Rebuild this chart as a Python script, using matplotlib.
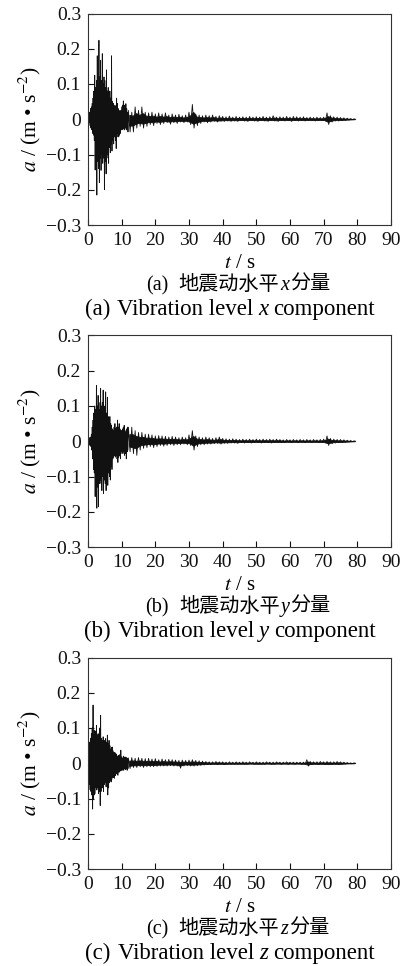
import matplotlib
matplotlib.use("Agg")
import matplotlib.pyplot as plt

plt.rcParams["font.family"] = ["Liberation Serif", "Noto Sans CJK SC"]
plt.rcParams["mathtext.fontset"] = "stix"

# Envelope of each record.
# Early part: 0-12 s in 0.25 s bins; late part: 12-80 s in 1 s bins.
# Each bin holds an upper peak followed by a lower peak (m/s^2).
EARLY_DT = 0.25
LATE_START = 12.0
LATE_DT = 1.0

x_early_hi = [0.005, 0.012, 0.020, 0.030, 0.035, 0.045, 0.060, 0.080,
              0.125, 0.090, 0.110, 0.180, 0.100, 0.224, 0.120, 0.167,
              0.110, 0.186, 0.100, 0.120, 0.110, 0.090, 0.140, 0.080,
              0.090, 0.070, 0.080, 0.060, 0.180, 0.050, 0.045, 0.030,
              0.040, 0.035, 0.060, 0.045, 0.030, 0.025, 0.020, 0.025,
              0.035, 0.040, 0.052, 0.040, 0.030, 0.044, 0.030, 0.020]
x_early_lo = [-0.008, -0.010, -0.018, -0.025, -0.030, -0.040, -0.045, -0.060,
              -0.144, -0.100, -0.215, -0.120, -0.140, -0.180, -0.110, -0.145,
              -0.100, -0.125, -0.110, -0.200, -0.120, -0.155, -0.110, -0.100,
              -0.125, -0.080, -0.095, -0.070, -0.090, -0.060, -0.070, -0.050,
              -0.060, -0.083, -0.050, -0.040, -0.050, -0.045, -0.040, -0.030,
              -0.030, -0.025, -0.028, -0.030, -0.025, -0.030, -0.025, -0.036]
x_late_hi = [0.025, 0.020, 0.035, 0.025, 0.035, 0.020, 0.018, 0.020,
             0.015, 0.018, 0.015, 0.018, 0.012, 0.015, 0.012, 0.014,
             0.010, 0.012, 0.020, 0.042, 0.015, 0.012, 0.010, 0.012,
             0.010, 0.012, 0.008, 0.010, 0.008, 0.007, 0.009, 0.006,
             0.008, 0.006, 0.007, 0.006, 0.008, 0.006, 0.007, 0.006,
             0.008, 0.006, 0.007, 0.010, 0.006, 0.007, 0.006, 0.008,
             0.006, 0.008, 0.007, 0.006, 0.007, 0.005, 0.006, 0.005,
             0.006, 0.005, 0.006, 0.018, 0.010, 0.007, 0.006, 0.005,
             0.004, 0.003, 0.002, 0.001]
x_late_lo = [-0.036, -0.036, -0.025, -0.020, -0.025, -0.020, -0.015, -0.018,
             -0.012, -0.015, -0.012, -0.010, -0.014, -0.010, -0.012, -0.008,
             -0.010, -0.008, -0.015, -0.025, -0.018, -0.012, -0.008, -0.010,
             -0.008, -0.006, -0.008, -0.006, -0.006, -0.005, -0.006, -0.005,
             -0.006, -0.004, -0.005, -0.006, -0.004, -0.005, -0.006, -0.004,
             -0.005, -0.006, -0.004, -0.005, -0.006, -0.004, -0.005, -0.004,
             -0.006, -0.004, -0.005, -0.004, -0.005, -0.004, -0.004, -0.005,
             -0.004, -0.004, -0.005, -0.015, -0.008, -0.005, -0.005, -0.004,
             -0.003, -0.002, -0.001, 0.000]

y_early_hi = [0.004, 0.008, 0.010, 0.012, 0.020, 0.040, 0.060, 0.080,
              0.100, 0.090, 0.158, 0.100, 0.130, 0.110, 0.090, 0.150,
              0.100, 0.110, 0.145, 0.090, 0.100, 0.140, 0.080, 0.125,
              0.070, 0.060, 0.070, 0.050, 0.045, 0.035, 0.030, 0.040,
              0.050, 0.035, 0.040, 0.060, 0.040, 0.050, 0.035, 0.030,
              0.030, 0.035, 0.040, 0.045, 0.030, 0.025, 0.035, 0.040]
y_early_lo = [-0.006, -0.010, -0.012, -0.015, -0.025, -0.050, -0.080, -0.090,
              -0.157, -0.110, -0.190, -0.130, -0.186, -0.120, -0.110, -0.120,
              -0.140, -0.100, -0.148, -0.110, -0.120, -0.140, -0.100, -0.125,
              -0.090, -0.100, -0.110, -0.070, -0.080, -0.050, -0.045, -0.040,
              -0.045, -0.040, -0.050, -0.060, -0.045, -0.040, -0.050, -0.035,
              -0.030, -0.035, -0.030, -0.040, -0.035, -0.050, -0.030, -0.025]
y_late_hi = [0.040, 0.040, 0.030, 0.025, 0.025, 0.020, 0.020, 0.018,
             0.015, 0.016, 0.015, 0.014, 0.012, 0.014, 0.012, 0.010,
             0.012, 0.010, 0.018, 0.030, 0.015, 0.012, 0.010, 0.012,
             0.010, 0.008, 0.010, 0.012, 0.008, 0.007, 0.006, 0.007,
             0.006, 0.005, 0.006, 0.005, 0.006, 0.005, 0.006, 0.005,
             0.006, 0.005, 0.006, 0.005, 0.006, 0.005, 0.004, 0.005,
             0.004, 0.005, 0.004, 0.005, 0.004, 0.005, 0.004, 0.005,
             0.004, 0.005, 0.006, 0.015, 0.008, 0.006, 0.005, 0.005,
             0.004, 0.003, 0.002, 0.001]
y_late_lo = [-0.030, -0.035, -0.040, -0.025, -0.020, -0.018, -0.015, -0.018,
             -0.015, -0.012, -0.014, -0.012, -0.010, -0.012, -0.010, -0.010,
             -0.008, -0.010, -0.012, -0.025, -0.015, -0.010, -0.010, -0.008,
             -0.008, -0.007, -0.006, -0.008, -0.006, -0.006, -0.005, -0.005,
             -0.006, -0.004, -0.005, -0.004, -0.005, -0.004, -0.004, -0.005,
             -0.004, -0.004, -0.005, -0.004, -0.004, -0.004, -0.004, -0.003,
             -0.004, -0.003, -0.004, -0.003, -0.004, -0.003, -0.004, -0.003,
             -0.004, -0.004, -0.005, -0.012, -0.007, -0.005, -0.004, -0.004,
             -0.003, -0.002, -0.001, 0.000]

z_early_hi = [0.040, 0.050, 0.060, 0.070, 0.084, 0.100, 0.165, 0.080,
              0.093, 0.090, 0.107, 0.080, 0.084, 0.070, 0.100, 0.136,
              0.070, 0.065, 0.075, 0.060, 0.065, 0.070, 0.060, 0.080,
              0.055, 0.065, 0.050, 0.040, 0.045, 0.046, 0.035, 0.030,
              0.030, 0.027, 0.025, 0.020, 0.022, 0.020, 0.025, 0.037,
              0.018, 0.015, 0.020, 0.015, 0.018, 0.015, 0.016, 0.014]
z_early_lo = [-0.070, -0.060, -0.075, -0.080, -0.090, -0.130, -0.100, -0.090,
              -0.086, -0.070, -0.076, -0.070, -0.086, -0.080, -0.120, -0.080,
              -0.067, -0.070, -0.080, -0.060, -0.055, -0.067, -0.060, -0.090,
              -0.070, -0.055, -0.050, -0.053, -0.045, -0.040, -0.040, -0.043,
              -0.035, -0.030, -0.030, -0.034, -0.025, -0.025, -0.022, -0.020,
              -0.020, -0.018, -0.020, -0.015, -0.018, -0.015, -0.020, -0.015]
z_late_hi = [0.015, 0.016, 0.014, 0.016, 0.014, 0.013, 0.014, 0.012,
             0.013, 0.010, 0.012, 0.010, 0.011, 0.010, 0.009, 0.008,
             0.009, 0.008, 0.009, 0.010, 0.008, 0.007, 0.006, 0.005,
             0.004, 0.004, 0.005, 0.004, 0.004, 0.003, 0.004, 0.003,
             0.004, 0.003, 0.004, 0.003, 0.004, 0.003, 0.004, 0.003,
             0.003, 0.004, 0.003, 0.003, 0.004, 0.003, 0.003, 0.004,
             0.003, 0.003, 0.003, 0.003, 0.003, 0.010, 0.005, 0.004,
             0.004, 0.005, 0.004, 0.005, 0.004, 0.004, 0.005, 0.004,
             0.003, 0.002, 0.001, 0.001]
z_late_lo = [-0.015, -0.012, -0.012, -0.010, -0.012, -0.010, -0.010, -0.010,
             -0.009, -0.008, -0.008, -0.008, -0.007, -0.008, -0.008, -0.014,
             -0.008, -0.007, -0.008, -0.008, -0.007, -0.006, -0.005, -0.004,
             -0.004, -0.003, -0.004, -0.003, -0.004, -0.003, -0.003, -0.003,
             -0.003, -0.003, -0.003, -0.003, -0.002, -0.003, -0.003, -0.003,
             -0.003, -0.002, -0.003, -0.003, -0.002, -0.003, -0.002, -0.003,
             -0.002, -0.003, -0.002, -0.003, -0.003, -0.008, -0.004, -0.003,
             -0.004, -0.003, -0.004, -0.004, -0.004, -0.003, -0.004, -0.003,
             -0.002, -0.001, -0.001, 0.000]

x_ticks = [0, 10, 20, 30, 40, 50, 60, 70, 80, 90]
y_ticks = [-0.3, -0.2, -0.1, 0.0, 0.1, 0.2, 0.3]
y_tick_labels = ["\u22120.3", "\u22120.2", "\u22120.1", "0", "0.1", "0.2", "0.3"]

panel_tags = ["(a)", "(b)", "(c)"]
components = ["x", "y", "z"]
cn_text = ("地震动水平", "分量")
en_text = ("Vibration level", "component")

records = [
    (x_early_hi, x_early_lo, x_late_hi, x_late_lo),
    (y_early_hi, y_early_lo, y_late_hi, y_late_lo),
    (z_early_hi, z_early_lo, z_late_hi, z_late_lo),
]


def build_trace(early_hi, early_lo, late_hi, late_lo):
    """Turn per-bin peaks into a zig-zag time series."""
    t, a = [], []
    for i, (hi, lo) in enumerate(zip(early_hi, early_lo)):
        t0 = i * EARLY_DT
        t += [t0, t0 + EARLY_DT / 2]
        a += [hi, lo]
    for j, (hi, lo) in enumerate(zip(late_hi, late_lo)):
        t0 = LATE_START + j * LATE_DT
        t += [t0, t0 + LATE_DT / 2]
        a += [hi, lo]
    return t, a


def text_row(fig, cx, base_y, parts, size):
    """Centre a row of differently styled pieces at pixel (cx, base_y)."""
    W, H = fig.get_size_inches() * fig.dpi
    r = fig.canvas.get_renderer()
    objs, total = [], 0.0
    for s, fam, style, gap in parts:
        t = fig.text(0, base_y / H, s, fontsize=size, family=fam,
                     style=style, va="baseline", ha="left")
        w = t.get_window_extent(r).width
        objs.append((t, w, gap))
        total += w + gap
    x = cx - total / 2
    for t, w, gap in objs:
        t.set_x(x / W)
        x += w + gap


W, H = 406, 966
fig = plt.figure(figsize=(W / 100, H / 100), dpi=100)

left, width = 88, 303
tops = [13.5, 335.5, 657.5]
height = 211.5
line_color = "#111111"

for k, top in enumerate(tops):
    ax = fig.add_axes([left / W, 1 - (top + height) / H, width / W, height / H])
    early_hi, early_lo, late_hi, late_lo = records[k]
    t, a = build_trace(early_hi, early_lo, late_hi, late_lo)
    ax.plot(t, a, color=line_color, lw=0.6)
    # the coda oscillates too fast to resolve: give it a solid core,
    # the zig-zag above supplies the ragged peaks
    t_band = [LATE_START + j * LATE_DT + 0.25 for j in range(len(late_hi))]
    core_hi = [v * 0.5 for v in late_hi]
    core_lo = [v * 0.5 for v in late_lo]
    ax.fill_between(t_band, core_lo, core_hi, color=line_color, lw=0.6)

    ax.set_xlim(0, 90)
    ax.set_ylim(-0.3, 0.3)
    ax.set_xticks(x_ticks)
    ax.set_yticks(y_ticks)
    ax.set_yticklabels(y_tick_labels)
    ax.tick_params(direction="in", length=4, width=0.8, top=False,
                   right=False, labelsize=14, pad=5, colors="#111111")
    for sp in ax.spines.values():
        sp.set_linewidth(0.8)
        sp.set_color("#333333")

    cx = left + width / 2
    mid = top + height / 2
    fig.text(30 / W, 1 - mid / H, r"$a$ / (m • s$^{-2}$)", fontsize=15.5,
             rotation=90, ha="center", va="center", family="Liberation Serif")

    off = k * 322
    fig.text(cx / W, 1 - (268 + off) / H, r"$t$ / s", fontsize=15,
             ha="center", va="baseline", family="Liberation Serif")

    comp = components[k]
    text_row(fig, 238, H - (290 + off), [
        (panel_tags[k], "Liberation Serif", "normal", 10),
        (cn_text[0], "Noto Sans CJK SC", "normal", 1),
        (comp, "Liberation Serif", "italic", 1),
        (cn_text[1], "Noto Sans CJK SC", "normal", 0),
    ], 14.5)
    text_row(fig, 230, H - (315 + off), [
        (panel_tags[k], "Liberation Serif", "normal", 7),
        (en_text[0], "Liberation Serif", "normal", 5),
        (comp, "Liberation Serif", "italic", 5),
        (en_text[1], "Liberation Serif", "normal", 0),
    ], 16.5)

fig.savefig("out.png", dpi=100)
